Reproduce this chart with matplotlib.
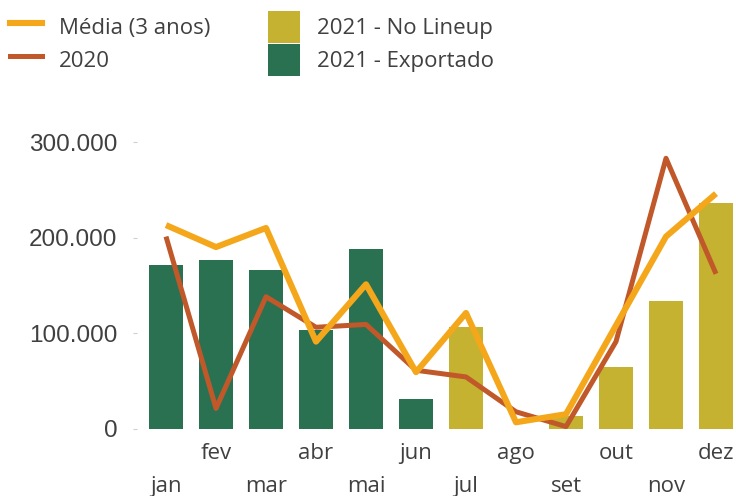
import numpy as np
import matplotlib.pyplot as plt
from matplotlib.patches import Patch
from matplotlib.lines import Line2D

meses = ['jan', 'fev', 'mar', 'abr', 'mai', 'jun', 'jul', 'ago', 'set', 'out', 'nov', 'dez']
exportado = [171000, 176000, 166000, 103000, 188000, 31000, 0, 0, 0, 0, 0, 0]
no_lineup = [0, 0, 0, 0, 0, 0, 106000, 0, 13000, 64000, 133000, 236000]
media_3anos = [213000, 190000, 210000, 91000, 151000, 59000, 121000, 6500, 15000, 108000, 201000, 246000]
ano_2020 = [201000, 21000, 138000, 106000, 109000, 61000, 54000, 17500, 2000, 91000, 283000, 162000]

verde = '#2A7152'
oliva = '#C5B230'
laranja = '#F5A71C'
vermelho = '#C0582A'
cinza = '#404040'

fig = plt.figure(figsize=(7.36, 4.96), dpi=100)
ax = fig.add_axes([137/736, 1-428.5/496, 1-137/736, (428.5-130)/496])

x = np.arange(len(meses))
ax.bar(x, exportado, width=0.68, color=verde, zorder=1)
ax.bar(x, no_lineup, width=0.68, color=oliva, zorder=1)
ax.plot(x, media_3anos, color=laranja, lw=4.4, solid_joinstyle='round', solid_capstyle='butt', zorder=3)
ax.plot(x, ano_2020, color=vermelho, lw=3.6, solid_joinstyle='round', solid_capstyle='butt', zorder=2)

ax.set_xlim(-0.58, 11.4)
ax.set_ylim(0, 312600)
ax.set_yticks([0, 100000, 200000, 300000])
ax.set_yticklabels(['0', '100.000', '200.000', '300.000'], fontfamily='Liberation Sans', fontsize=17.5, color=cinza)
ax.tick_params(axis='y', length=3, color='#D0D0D0', pad=11)

# meses alternados em duas linhas
ax.set_xticks(x[1::2])
ax.set_xticklabels(meses[1::2], fontfamily='Open Sans', fontsize=16, color=cinza)
ax.set_xticks(x[0::2], minor=True)
ax.set_xticklabels(meses[0::2], minor=True, fontfamily='Open Sans', fontsize=16, color=cinza)
ax.tick_params(axis='x', which='major', length=0, pad=10.5)
ax.tick_params(axis='x', which='minor', length=0, pad=34.5)

for s in ax.spines.values():
    s.set_visible(False)

handles = [
    Line2D([], [], color=laranja, lw=4.4),
    Line2D([], [], color=vermelho, lw=3.6),
    Patch(facecolor=oliva),
    Patch(facecolor=verde),
]
labels = ['Média (3 anos)', '2020', '2021 - No Lineup', '2021 - Exportado']
fig.legend(handles, labels, loc='upper left', bbox_to_anchor=(10/736, 1-11/496), ncol=2,
           frameon=False, borderpad=0, borderaxespad=0, handlelength=1.45, handleheight=1.84,
           handletextpad=0.75, columnspacing=2.6, labelspacing=0.05,
           prop={'family': 'Open Sans', 'size': 16}, labelcolor=cinza)

fig.savefig('out.png', dpi=100)
